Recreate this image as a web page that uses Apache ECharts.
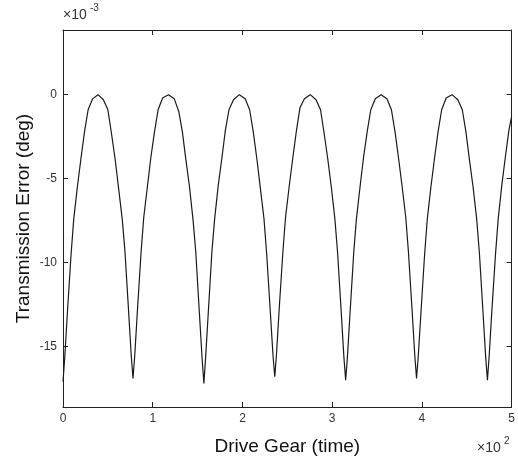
<!DOCTYPE html>
<html>
<head>
<meta charset="utf-8">
<script src="https://cdn.jsdelivr.net/npm/echarts@6/dist/echarts.min.js"></script>
<style>
html,body{margin:0;padding:0;background:#fff;}
#chart{width:518px;height:461px;}
</style>
</head>
<body>
<div id="chart"></div>
<script>
// Drive gear time (x10^2)
const timeValues = [
  0, 0.02, 0.05, 0.09, 0.12, 0.16, 0.20, 0.24, 0.28, 0.33, 0.39, 0.45, 0.50, 0.54, 0.58, 0.62, 0.66, 0.69, 0.73, 0.76,
  0.78, 0.80, 0.83, 0.87, 0.90, 0.94, 0.98, 1.02, 1.06, 1.11, 1.175, 1.24, 1.29, 1.33, 1.37, 1.41, 1.45, 1.48, 1.52, 1.55,
  1.57, 1.59, 1.62, 1.66, 1.69, 1.73, 1.77, 1.81, 1.85, 1.90, 1.965, 2.03, 2.08, 2.12, 2.16, 2.20, 2.24, 2.27, 2.31, 2.34,
  2.36, 2.38, 2.41, 2.45, 2.48, 2.52, 2.56, 2.60, 2.64, 2.69, 2.755, 2.82, 2.87, 2.91, 2.95, 2.99, 3.03, 3.06, 3.10, 3.13,
  3.15, 3.17, 3.20, 3.24, 3.27, 3.31, 3.35, 3.39, 3.43, 3.48, 3.545, 3.61, 3.66, 3.70, 3.74, 3.78, 3.82, 3.85, 3.89, 3.92,
  3.94, 3.96, 3.99, 4.03, 4.06, 4.10, 4.14, 4.18, 4.22, 4.27, 4.335, 4.40, 4.45, 4.49, 4.53, 4.57, 4.61, 4.64, 4.68, 4.71,
  4.73, 4.75, 4.78, 4.82, 4.85, 4.89, 4.93, 4.97, 5.00
];
// Transmission error (deg, x10^-3)
const errorValues = [
  -17.1, -15.6, -12.9, -9.5, -7.4, -5.5, -3.8, -2.2, -0.9, -0.25, 0, -0.3, -0.9, -2.3, -3.8, -5.6, -7.4, -9.3, -12.8, -15.5,
  -16.9, -15.5, -12.8, -9.4, -7.3, -5.5, -3.7, -2.2, -0.9, -0.2, 0, -0.25, -1.0, -2.2, -3.9, -5.5, -7.5, -9.4, -13.0, -15.7,
  -17.2, -15.6, -12.9, -9.3, -7.4, -5.4, -3.8, -2.1, -0.9, -0.3, 0, -0.25, -0.9, -2.2, -3.8, -5.6, -7.4, -9.5, -12.9, -15.5,
  -16.8, -15.4, -12.7, -9.4, -7.3, -5.5, -3.8, -2.2, -0.8, -0.25, 0, -0.3, -0.9, -2.3, -3.8, -5.5, -7.4, -9.4, -12.9, -15.6,
  -17.0, -15.6, -12.9, -9.4, -7.4, -5.5, -3.7, -2.2, -0.9, -0.25, 0, -0.25, -0.9, -2.2, -3.8, -5.5, -7.3, -9.4, -12.8, -15.5,
  -16.9, -15.5, -12.9, -9.5, -7.4, -5.5, -3.8, -2.2, -0.9, -0.2, 0, -0.3, -0.9, -2.2, -3.9, -5.5, -7.4, -9.4, -12.9, -15.6,
  -17.0, -15.5, -12.8, -9.5, -7.4, -5.4, -3.7, -2.1, -1.3
];
const xTickLabels = ['0', '1', '2', '3', '4', '5'];
const yTickValues = [-15, -10, -5, 0];

const seriesData = timeValues.map((t, i) => [t, errorValues[i]]);

const chart = echarts.init(document.getElementById('chart'), null, {renderer: 'canvas'});
const axisLine = {show: true, onZero: false, lineStyle: {color: '#222', width: 1}};
const fontFamily = 'Liberation Sans, Arial, sans-serif';

chart.setOption({
  animation: false,
  backgroundColor: '#fff',
  grid: {left: 63, right: 5, top: 30, bottom: 52, containLabel: false},
  xAxis: [{
    type: 'value', min: 0, max: 5, interval: 1, position: 'bottom',
    axisLine: axisLine,
    axisTick: {show: true, inside: true, length: 5, lineStyle: {color: '#222'}},
    axisLabel: {color: '#333', fontSize: 12, fontFamily: fontFamily, margin: 6,
      formatter: v => xTickLabels[Math.round(v)]},
    splitLine: {show: false},
    name: 'Drive Gear (time)', nameLocation: 'middle', nameGap: 30,
    nameTextStyle: {color: '#111', fontSize: 19, fontFamily: fontFamily}
  }, {
    type: 'value', min: 0, max: 5, interval: 1, position: 'top',
    axisLine: axisLine,
    axisTick: {show: true, inside: true, length: 5, lineStyle: {color: '#222'}},
    axisLabel: {show: false}, splitLine: {show: false}
  }],
  yAxis: [{
    type: 'value', min: -18.6, max: 3.85, position: 'left',
    axisLine: axisLine,
    axisTick: {show: true, inside: true, length: 5, customValues: yTickValues, lineStyle: {color: '#222'}},
    axisLabel: {color: '#333', fontSize: 12, fontFamily: fontFamily, margin: 6, customValues: yTickValues},
    splitLine: {show: false},
    name: 'Transmission Error (deg)', nameLocation: 'middle', nameGap: 30, nameRotate: 90,
    nameMoveOverlap: false,
    nameTextStyle: {color: '#111', fontSize: 19, fontFamily: fontFamily}
  }, {
    type: 'value', min: -18.6, max: 3.85, position: 'right',
    axisLine: axisLine,
    axisTick: {show: true, inside: true, length: 5, customValues: yTickValues, lineStyle: {color: '#222'}},
    axisLabel: {show: false}, splitLine: {show: false}
  }],
  graphic: [
    {type: 'text', left: 63, top: 8, style: {text: '×10', fill: '#333', font: '14px Liberation Sans, Arial, sans-serif'}},
    {type: 'text', left: 90, top: 3, style: {text: '-3', fill: '#333', font: '10px Liberation Sans, Arial, sans-serif'}},
    {type: 'text', left: 477, top: 441, style: {text: '×10', fill: '#333', font: '14px Liberation Sans, Arial, sans-serif'}},
    {type: 'text', left: 504, top: 436, style: {text: '2', fill: '#333', font: '10px Liberation Sans, Arial, sans-serif'}}
  ],
  series: [{
    type: 'line', xAxisIndex: 0, yAxisIndex: 0,
    data: seriesData, showSymbol: false, smooth: false,
    lineStyle: {color: '#1a1a1a', width: 1.2}
  }]
});
</script>
</body>
</html>
